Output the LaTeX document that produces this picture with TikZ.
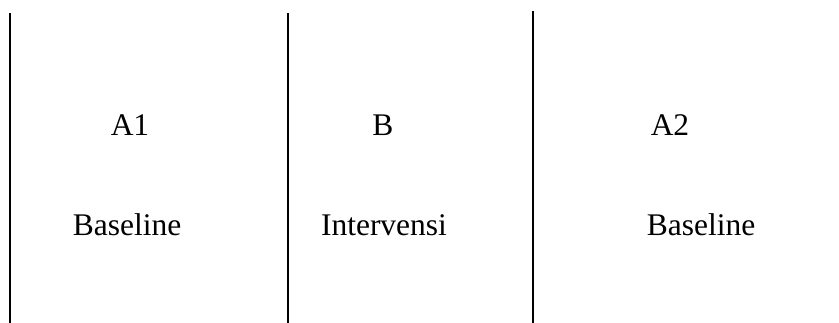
\documentclass[tikz,border=0pt]{standalone}
\usepackage{fontspec}
\setmainfont{Liberation Serif}
\begin{document}
\begin{tikzpicture}[x=1pt,y=-1pt,
  divider/.style={line width=1.4pt,black},
  label/.style={anchor=base,inner sep=0pt,font=\fontsize{31.5}{36}\selectfont}]
\useasboundingbox (0,0) rectangle (839,323);
% phase dividers
\coordinate (d1t) at (10,13);  \coordinate (d1b) at (10,323);
\coordinate (d2t) at (288,13); \coordinate (d2b) at (288,323);
\coordinate (d3t) at (533,11); \coordinate (d3b) at (533,323);
\draw[divider] (d1t) -- (d1b);
\draw[divider] (d2t) -- (d2b);
\draw[divider] (d3t) -- (d3b);
% phase names
\node[label] (a1) at (130,136) {A1};
\node[label] (b)  at (383,136) {B};
\node[label] (a2) at (670,136) {A2};
% phase descriptions
\node[label] (base1) at (127,236) {Baseline};
\node[label] (interv) at (384,236) {Intervensi};
\node[label] (base2) at (701,236) {Baseline};
\end{tikzpicture}
\end{document}
